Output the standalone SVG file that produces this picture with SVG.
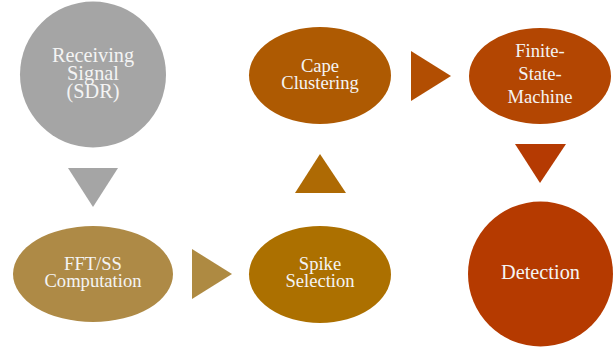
<svg xmlns="http://www.w3.org/2000/svg" width="615" height="350" viewBox="0 0 615 350">
<style>
text{font-family:"Liberation Serif","Times New Roman",serif;fill:#F4F4F4;text-anchor:middle;font-size:18.6px}
.big{font-size:20.3px}
</style>
<rect width="615" height="350" fill="#FFFFFF"/>
<g id="connectors">
<polygon points="68,168 118,168 93,207" fill="#A5A5A5"/>
<polygon points="192,249 192,299 232,274" fill="#AE8A42"/>
<polygon points="295,193 346,193 320,154" fill="#AE6A04"/>
<polygon points="411,51 411,101 451,76" fill="#B24E02"/>
<polygon points="515,144 566,144 540,183" fill="#B53A02"/>
</g>
<g id="receiving">
<circle cx="93" cy="74.5" r="73" fill="#A5A5A5"/>
<text class="big" x="93" y="62">Receiving</text>
<text class="big" x="93" y="80">Signal</text>
<text class="big" x="93" y="98">(SDR)</text>
</g>
<g id="fft">
<ellipse cx="93" cy="274" rx="80" ry="48" fill="#AE8A46"/>
<text x="93" y="270">FFT/SS</text>
<text x="93" y="287">Computation</text>
</g>
<g id="spike">
<ellipse cx="320" cy="274.5" rx="71" ry="48.5" fill="#AC7000"/>
<text x="320" y="270">Spike</text>
<text x="320" y="287">Selection</text>
</g>
<g id="cape">
<ellipse cx="320" cy="75.5" rx="71" ry="48.5" fill="#AE5A02"/>
<text x="320" y="72">Cape</text>
<text x="320" y="89">Clustering</text>
</g>
<g id="fsm">
<ellipse cx="540" cy="76" rx="71" ry="48" fill="#B34602"/>
<text x="540" y="57">Finite-</text>
<text x="540" y="80">State-</text>
<text x="540" y="103">Machine</text>
</g>
<g id="detection">
<circle cx="540.5" cy="274" r="72.5" fill="#B53A00"/>
<text class="big" x="540.5" y="279">Detection</text>
</g>
</svg>
